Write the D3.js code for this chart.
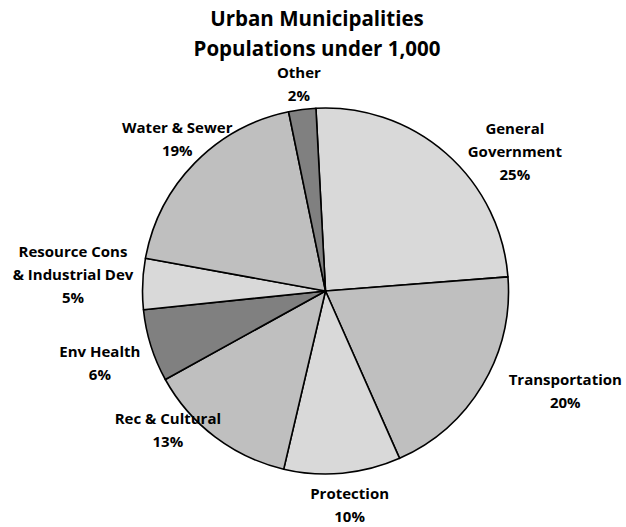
<!DOCTYPE html>
<html><head><meta charset="utf-8">
<script src="https://cdn.jsdelivr.net/npm/d3@7"></script>
<style>body{margin:0;background:#fff}</style>
</head><body>
<script>
const categories = ["General Government","Transportation","Protection","Rec & Cultural","Env Health","Resource Cons & Industrial Dev","Water & Sewer","Other"];
const labelLines = [["General","Government"],["Transportation"],["Protection"],["Rec & Cultural"],["Env Health"],["Resource Cons","& Industrial Dev"],["Water & Sewer"],["Other"]];
const values = [24.6, 19.6, 10.3, 13.3, 6.4, 4.5, 18.9, 2.4];
const percentLabels = ["25%","20%","10%","13%","6%","5%","19%","2%"];
const titleLines = ["Urban Municipalities","Populations under 1,000"];

// layout (not data)
const fills = ["#d9d9d9","#bfbfbf","#d9d9d9","#bfbfbf","#808080","#d9d9d9","#bfbfbf","#808080"];
const labelRadius = [235, 260, 215, 210, 237, 253, 212, 209];
const labelAngleNudge = [12.4, -8.1, -1.1, 11.5, -0.4, 1.4, 1.3, 0];

const W = 626, H = 527, cx = 325.5, cy = 291, r = 183;
const svg = d3.select("body").append("svg").attr("width", W).attr("height", H)
  .style("font-family", "'Open Sans', Lato, sans-serif").style("font-weight", "bold");

svg.append("text").attr("x", 317).attr("text-anchor", "middle").style("font-size", "20.5px").attr("fill", "#000")
  .selectAll("tspan").data(titleLines).join("tspan")
  .attr("x", 317).attr("y", (d, i) => 25.5 + i * 30).text(d => d);

const start = -3 * Math.PI / 180;
const pie = d3.pie().sort(null).value(d => d).startAngle(start).endAngle(start + 2 * Math.PI);
const arcs = pie(values);
const arc = d3.arc().innerRadius(0).outerRadius(r);
const g = svg.append("g").attr("transform", `translate(${cx},${cy})`);
g.selectAll("path").data(arcs).join("path")
  .attr("d", arc).attr("fill", (d, i) => fills[i])
  .attr("stroke", "#000").attr("stroke-width", 1.6).attr("stroke-linejoin", "round");

const lh = 23;
arcs.forEach((d, i) => {
  const mid = (d.startAngle + d.endAngle) / 2 + labelAngleNudge[i] * Math.PI / 180;
  const lx = Math.sin(mid) * labelRadius[i];
  const ly = -Math.cos(mid) * labelRadius[i];
  const lines = labelLines[i].concat([percentLabels[i]]);
  const n = lines.length;
  const t = g.append("text").attr("text-anchor", "middle").style("font-size", "15px").attr("fill", "#000");
  lines.forEach((s, j) => {
    t.append("tspan").attr("x", lx).attr("y", ly + (j - (n - 1) / 2) * lh + 5.4).text(s);
  });
});
</script>
</body></html>
